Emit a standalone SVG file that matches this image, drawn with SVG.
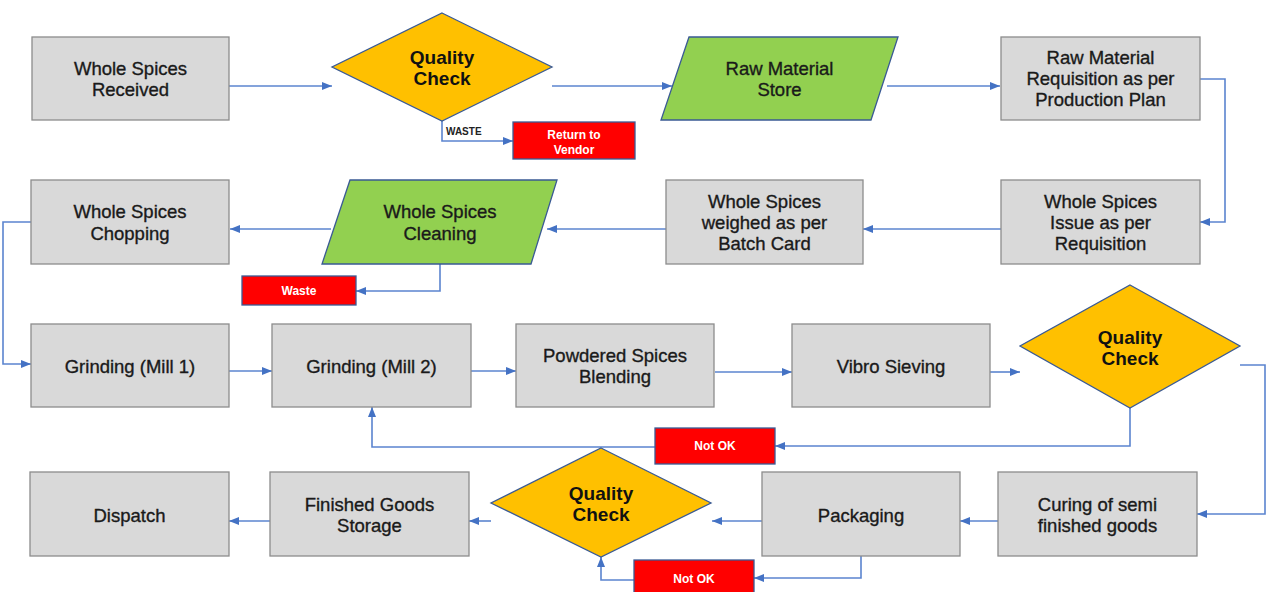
<svg xmlns="http://www.w3.org/2000/svg" width="1266" height="592" viewBox="0 0 1266 592">
<defs>
<style>
.box{fill:#D9D9D9;stroke:#8C8C8C;stroke-width:1.3}
.dia{fill:#FFC000;stroke:#3A5A94;stroke-width:1.3}
.par{fill:#92D050;stroke:#3A5A94;stroke-width:1.3}
.red{fill:#FF0000;stroke:#3A5A94;stroke-width:1.3}
.t{font-family:"Liberation Sans",Arial,sans-serif;font-size:18.5px;fill:#1A1A1A;stroke:#1A1A1A;stroke-width:0.35;text-anchor:middle}
.tq{font-family:"Liberation Sans",Arial,sans-serif;font-size:19px;font-weight:bold;fill:#111;text-anchor:middle}
.tr{font-family:"Liberation Sans",Arial,sans-serif;font-size:12px;font-weight:bold;fill:#FFFFFF;text-anchor:middle}
.tw{font-family:"Liberation Sans",Arial,sans-serif;font-size:10px;font-weight:bold;fill:#222}
.c{fill:none;stroke:#5B84CF;stroke-width:1.6;marker-end:url(#ah)}
</style>
<marker id="ah" markerUnits="userSpaceOnUse" markerWidth="10" markerHeight="8" refX="10" refY="4" orient="auto">
<path d="M0,0 L10,4 L0,8 z" fill="#4472C4"/>
</marker>
</defs>
<rect width="1266" height="592" fill="#FFFFFF"/>
<g id="connectors">
<path class="c" d="M229,86 H332"/>
<path class="c" d="M552,86 H672"/>
<path class="c" d="M887,86 H1000"/>
<path class="c" d="M1200,79 H1225 V222 H1200"/>
<path class="c" d="M1001,229 H863"/>
<path class="c" d="M666,229 H547"/>
<path class="c" d="M331,229 H230"/>
<path class="c" d="M440,264 V291 H356"/>
<path class="c" d="M31,222 H3 V364 H31"/>
<path class="c" d="M229,371 H272"/>
<path class="c" d="M471,371 H516"/>
<path class="c" d="M715,372 H792"/>
<path class="c" d="M990,372 H1020"/>
<path class="c" d="M1240,365 H1265 V514 H1197"/>
<path class="c" d="M1130,408 V446 H775"/>
<path class="c" d="M655,447 H372 V407"/>
<path class="c" d="M998,521 H960"/>
<path class="c" d="M762,521 H712"/>
<path class="c" d="M491,521 H469"/>
<path class="c" d="M270,521 H229"/>
<path class="c" d="M861,556 V578 H754"/>
<path class="c" d="M634,580 H601 V557"/>
<path class="c" d="M442,121 V141 H513"/>
</g>
<g id="n-received"><rect class="box" x="32" y="37" width="197" height="83"/><text class="t" x="130.5" y="74.5">Whole Spices</text><text class="t" x="130.5" y="95.5">Received</text></g>
<g id="n-qc1"><polygon class="dia" points="442,13 552,67 442,121 332,67"/><text class="tq" x="442" y="63.5">Quality</text><text class="tq" x="442" y="84.5">Check</text></g>
<g id="n-return"><rect class="red" x="513" y="122" width="122" height="37"/><text class="tr" x="574" y="139">Return to</text><text class="tr" x="574" y="154">Vendor</text></g>
<text class="tw" x="446" y="135">WASTE</text>
<g id="n-rmstore"><polygon class="par" points="689,37 898,37 871,120 661,120"/><text class="t" x="779.5" y="74.5">Raw Material</text><text class="t" x="779.5" y="95.5">Store</text></g>
<g id="n-requisition"><rect class="box" x="1001" y="37" width="199" height="83"/><text class="t" x="1100.5" y="64">Raw Material</text><text class="t" x="1100.5" y="85">Requisition as per</text><text class="t" x="1100.5" y="106">Production Plan</text></g>
<g id="n-issue"><rect class="box" x="1001" y="180" width="199" height="84"/><text class="t" x="1100.5" y="208">Whole Spices</text><text class="t" x="1100.5" y="229">Issue as per</text><text class="t" x="1100.5" y="250">Requisition</text></g>
<g id="n-weighed"><rect class="box" x="666" y="180" width="197" height="84"/><text class="t" x="764.5" y="208">Whole Spices</text><text class="t" x="764.5" y="229">weighed as per</text><text class="t" x="764.5" y="250">Batch Card</text></g>
<g id="n-cleaning"><polygon class="par" points="350,180 557,180 531,264 322,264"/><text class="t" x="440" y="217.5">Whole Spices</text><text class="t" x="440" y="239.5">Cleaning</text></g>
<g id="n-waste"><rect class="red" x="242" y="276" width="114" height="29"/><text class="tr" x="299" y="294.5">Waste</text></g>
<g id="n-chopping"><rect class="box" x="31" y="180" width="198" height="84"/><text class="t" x="130" y="217.5">Whole Spices</text><text class="t" x="130" y="239.5">Chopping</text></g>
<g id="n-mill1"><rect class="box" x="31" y="324" width="198" height="83"/><text class="t" x="130" y="372.5">Grinding (Mill 1)</text></g>
<g id="n-mill2"><rect class="box" x="272" y="324" width="199" height="83"/><text class="t" x="371.5" y="372.5">Grinding (Mill 2)</text></g>
<g id="n-blending"><rect class="box" x="516" y="324" width="198" height="83"/><text class="t" x="615" y="361.5">Powdered Spices</text><text class="t" x="615" y="382.5">Blending</text></g>
<g id="n-vibro"><rect class="box" x="792" y="324" width="198" height="83"/><text class="t" x="891" y="372.5">Vibro Sieving</text></g>
<g id="n-qc2"><polygon class="dia" points="1130,285 1240,346 1130,408 1020,346"/><text class="tq" x="1130" y="343.5">Quality</text><text class="tq" x="1130" y="364.5">Check</text></g>
<g id="n-notok1"><rect class="red" x="655" y="428" width="120" height="36"/><text class="tr" x="715" y="450">Not OK</text></g>
<g id="n-curing"><rect class="box" x="998" y="472" width="199" height="84"/><text class="t" x="1097.5" y="510.5">Curing of semi</text><text class="t" x="1097.5" y="531.5">finished goods</text></g>
<g id="n-packaging"><rect class="box" x="762" y="472" width="198" height="84"/><text class="t" x="861" y="521.5">Packaging</text></g>
<g id="n-qc3"><polygon class="dia" points="601,448 711,503 601,557 491,503"/><text class="tq" x="601" y="499.5">Quality</text><text class="tq" x="601" y="521">Check</text></g>
<g id="n-notok2"><rect class="red" x="634" y="560" width="120" height="34"/><text class="tr" x="694" y="582.5">Not OK</text></g>
<g id="n-fgs"><rect class="box" x="270" y="472" width="199" height="84"/><text class="t" x="369.5" y="510.5">Finished Goods</text><text class="t" x="369.5" y="531.5">Storage</text></g>
<g id="n-dispatch"><rect class="box" x="30" y="472" width="199" height="84"/><text class="t" x="129.5" y="521.5">Dispatch</text></g>
</svg>
